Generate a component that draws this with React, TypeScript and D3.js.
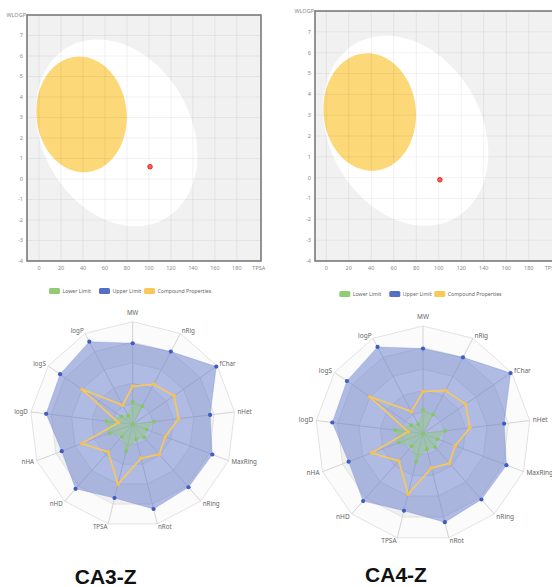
import React, { useEffect, useRef } from 'react'
import * as d3 from 'd3'

// BOILED-Egg panels
const tpsaTicks = [0, 20, 40, 60, 80, 100, 120, 140, 160, 180]
const wlogpTicks = [-4, -3, -2, -1, 0, 1, 2, 3, 4, 5, 6, 7]
// [cx, cy, sx, sy, rho] in TPSA / WLOGP units
const eggWhite = [70.5, 2.25, 73.6, 4.56, -0.234]
const eggYolk = [38.6, 3.15, 41.2, 2.82, -0.05]
const ca3Point = [101, 0.6]
const ca4Point = [101, -0.1]

// radar panels
const radarAxes = ['MW', 'nRig', 'fChar', 'nHet', 'MaxRing', 'nRing', 'nRot', 'TPSA', 'nHD', 'nHA', 'logD', 'logS', 'logP']
const upperLimit = [0.79, 0.8, 0.99, 0.76, 0.83, 0.82, 0.85, 0.74, 0.84, 0.74, 0.85, 0.86, 0.91]
const lowerLimit = [0.22, 0.2, 0, 0.21, 0.145, 0.17, 0.15, 0.27, 0.16, 0.24, 0.26, 0.135, 0.095]
const ca3Props = [0.37, 0.44, 0.49, 0.45, 0.34, 0.39, 0.34, 0.6, 0.36, 0.53, 0.14, 0.6, 0.21]
const ca4Props = [0.39, 0.45, 0.48, 0.44, 0.32, 0.37, 0.33, 0.58, 0.34, 0.51, 0.14, 0.6, 0.23]
const legendNames = ['Lower Limit', 'Upper Limit', 'Compound Properties']
const compoundNames = ['CA3-Z', 'CA4-Z']

const FONT = '"Noto Sans", "Open Sans", sans-serif'

function drawEgg(svg: any, box: any, xDomain: number[], point: number[]) {
  const x = d3.scaleLinear().domain(xDomain).range([box.x0, box.x1])
  const y = d3.scaleLinear().domain([-4, 8]).range([box.y1, box.y0])
  const g = svg.append('g')

  g.append('rect').attr('x', box.x0).attr('y', box.y0)
    .attr('width', box.x1 - box.x0).attr('height', box.y1 - box.y0)
    .attr('fill', '#f1f1f1')

  const ellipse = (p: number[]) => {
    const [cx, cy, sx, sy, rho] = p
    const k = Math.sqrt(1 - rho * rho)
    const pts = d3.range(0, 120).map(i => {
      const t = (i / 120) * Math.PI * 2
      return [cx + sx * Math.cos(t), cy + sy * (rho * Math.cos(t) + k * Math.sin(t))]
    })
    return d3.line().x((d: any) => x(d[0])).y((d: any) => y(d[1])).curve(d3.curveLinearClosed)(pts as any)
  }
  g.append('path').attr('d', ellipse(eggWhite)).attr('fill', '#ffffff')
  g.append('path').attr('d', ellipse(eggYolk)).attr('fill', '#fdd878')

  // grid on top, very faint
  g.selectAll('.vg').data(tpsaTicks).join('line')
    .attr('x1', (d: number) => x(d)).attr('x2', (d: number) => x(d))
    .attr('y1', box.y0).attr('y2', box.y1)
    .attr('stroke', 'rgba(0,0,0,0.06)')
  g.selectAll('.hg').data(wlogpTicks).join('line')
    .attr('y1', (d: number) => y(d)).attr('y2', (d: number) => y(d))
    .attr('x1', box.x0).attr('x2', box.x1)
    .attr('stroke', 'rgba(0,0,0,0.05)')

  g.append('circle').attr('cx', x(point[0])).attr('cy', y(point[1])).attr('r', 2.3)
    .attr('fill', '#ff5a5a').attr('stroke', '#e01010').attr('stroke-width', 0.8)

  g.append('rect').attr('x', box.x0).attr('y', box.y0)
    .attr('width', box.x1 - box.x0).attr('height', box.y1 - box.y0)
    .attr('fill', 'none').attr('stroke', '#7a7a7a').attr('stroke-width', 1.6)

  g.selectAll('.yl').data(wlogpTicks).join('text')
    .attr('x', box.x0 - 4).attr('y', (d: number) => y(d)).attr('dy', '0.35em')
    .attr('text-anchor', 'end').attr('font-size', 5.5).attr('fill', '#888')
    .attr('font-family', FONT).text((d: number) => d)
  g.append('text').attr('x', box.x0 - 1).attr('y', y(8)).attr('dy', '0.35em')
    .attr('text-anchor', 'end').attr('font-size', 5.5).attr('fill', '#888')
    .attr('font-family', FONT).text('WLOGP')

  g.selectAll('.xl').data(tpsaTicks).join('text')
    .attr('x', (d: number) => x(d)).attr('y', box.y1 + 9)
    .attr('text-anchor', 'middle').attr('font-size', 5.5).attr('fill', '#888')
    .attr('font-family', FONT).text((d: number) => d)
  g.append('text').attr('x', x(200)).attr('y', box.y1 + 9)
    .attr('text-anchor', 'middle').attr('font-size', 5.5).attr('fill', '#888')
    .attr('font-family', FONT).text('TPSA')
}

function drawRadar(svg: any, cx: number, cy: number, R: number, props: number[], legendY: number, title: string, titleY: number) {
  const n = radarAxes.length
  const g = svg.append('g').attr('transform', `translate(${cx},${cy})`)
  const r = d3.scaleLinear().domain([0, 1]).range([0, R])
  const angle = d3.scaleLinear().domain([0, n]).range([0, Math.PI * 2])
  const px = (v: number, i: number) => r(v) * Math.sin(angle(i))
  const py = (v: number, i: number) => -r(v) * Math.cos(angle(i))
  const poly = (vals: number[]) =>
    d3.line().curve(d3.curveLinearClosed)(vals.map((v, i) => [px(v, i), py(v, i)]) as any)

  const levels = [1, 0.8, 0.6, 0.4, 0.2]
  g.selectAll('.band').data(levels).join('path')
    .attr('d', (l: number) => poly(radarAxes.map(() => l)))
    .attr('fill', (l: number, i: number) => (i % 2 === 0 ? '#fbfbfb' : '#f0f0f0'))
    .attr('stroke', '#dcdcdc').attr('stroke-width', 0.8)
  g.selectAll('.axis').data(radarAxes).join('line')
    .attr('x1', 0).attr('y1', 0)
    .attr('x2', (d: string, i: number) => px(1, i)).attr('y2', (d: string, i: number) => py(1, i))
    .attr('stroke', '#cfcfcf').attr('stroke-width', 0.9)

  // upper limit
  g.append('path').attr('d', poly(upperLimit))
    .attr('fill', 'rgba(84,112,198,0.46)').attr('stroke', 'rgba(84,112,198,0.3)').attr('stroke-width', 0.8)
  // lower limit
  g.append('path').attr('d', poly(lowerLimit))
    .attr('fill', 'rgba(145,204,117,0.45)').attr('stroke', 'rgba(145,204,117,0.7)').attr('stroke-width', 0.6)
  // compound
  g.append('path').attr('d', poly(props))
    .attr('fill', 'none').attr('stroke', '#fac858').attr('stroke-width', 1.6)

  const dots = (vals: number[], color: string, rad: number) =>
    g.append('g').selectAll('circle').data(vals).join('circle')
      .attr('cx', (v: number, i: number) => px(v, i)).attr('cy', (v: number, i: number) => py(v, i))
      .attr('r', rad).attr('fill', color)
  dots(upperLimit, '#3f5bc4', 2.1)
  dots(lowerLimit, '#86c765', 1.9)
  dots(props, '#f7c04a', 1.9)

  const fs = 6.2 * R / 102.6
  const gap = 3 * R / 102.6
  g.selectAll('.lbl').data(radarAxes).join('text')
    .attr('x', (d: string, i: number) => (r(1) + gap) * Math.sin(angle(i)))
    .attr('y', (d: string, i: number) => -(r(1) + gap) * Math.cos(angle(i)))
    .attr('dy', (d: string, i: number) => (i === 0 ? '-0.6em' : '0.35em'))
    .attr('text-anchor', (d: string, i: number) => {
      const s = Math.sin(angle(i))
      return Math.abs(s) < 0.05 ? 'middle' : s > 0 ? 'start' : 'end'
    })
    .attr('font-size', fs).attr('fill', '#666').attr('font-family', FONT)
    .text((d: string) => d)

  // legend
  const colors = ['#91cc75', '#5470c6', '#fac858']
  const boxX = [-83.7, -33.7, 11.3]
  const lg = svg.append('g').attr('transform', `translate(${cx},${legendY})`)
  lg.selectAll('rect').data(legendNames).join('rect')
    .attr('x', (d: string, i: number) => boxX[i]).attr('y', -3)
    .attr('width', 11).attr('height', 6).attr('rx', 1.5)
    .attr('fill', (d: string, i: number) => colors[i])
  lg.selectAll('text').data(legendNames).join('text')
    .attr('x', (d: string, i: number) => boxX[i] + 13.5).attr('y', 0).attr('dy', '0.35em')
    .attr('font-size', 5.2).attr('fill', '#666').attr('font-family', FONT)
    .text((d: string) => d)

  svg.append('text').attr('x', cx - 27).attr('y', titleY)
    .attr('text-anchor', 'middle').attr('font-size', 21).attr('font-weight', 'bold')
    .attr('font-family', '"Liberation Sans", Arial, sans-serif').attr('fill', '#111')
    .text(title)
}

export default function App() {
  const ref = useRef<SVGSVGElement>(null)

  useEffect(() => {
    const svg = d3.select(ref.current)
    svg.selectAll('*').remove()
    svg.append('rect').attr('width', 552).attr('height', 587).attr('fill', '#fff')

    drawEgg(svg, { x0: 27, x1: 261, y0: 15, y1: 261 }, [-11, 202], ca3Point)
    drawEgg(svg, { x0: 315, x1: 553.5, y0: 11, y1: 261 }, [-10, 202], ca4Point)

    drawRadar(svg, 132.7, 424.3, 102.6, ca3Props, 291, compoundNames[0], 584)
    drawRadar(svg, 423, 433.5, 107.5, ca4Props, 294, compoundNames[1], 582)
  }, [])

  return (
    <svg ref={ref} width={552} height={587}
      style={{ position: 'absolute', left: 0, top: 0, display: 'block' }} />
  )
}
